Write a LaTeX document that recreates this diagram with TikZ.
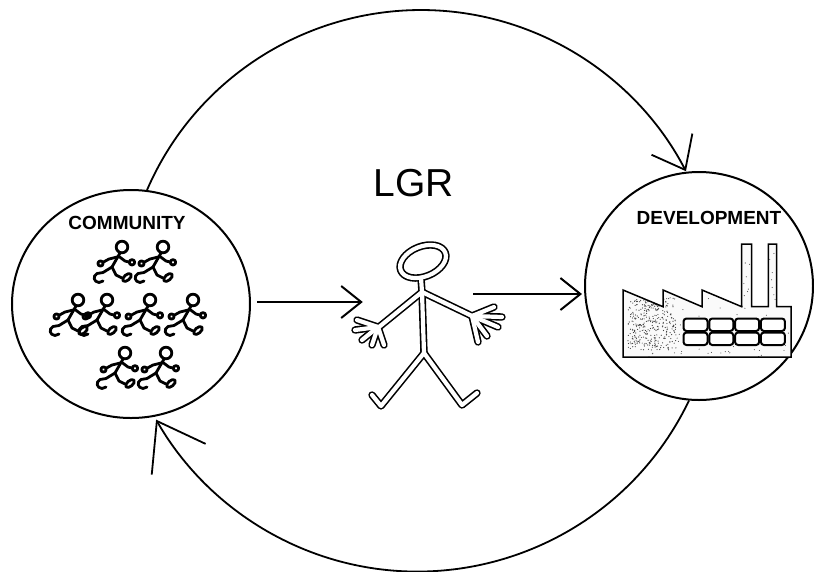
\documentclass[tikz,border=0pt]{standalone}
\usepackage{fontspec}
\setmainfont{Liberation Sans}
\usetikzlibrary{arrows.meta,shapes.geometric}

% outline of the factory building (sawtooth roof and two chimneys)
\newcommand{\factoryoutline}{(623,290) -- (663,306.7) -- (663,290) -- (702,306.7) -- (702,290)
  -- (741.7,306.7) -- (741.7,244) -- (751.7,244) -- (751.7,306.7) -- (768.3,306.7)
  -- (768.3,244) -- (776.7,244) -- (776.7,306.7) -- (791,306.7) -- (791,357) -- (623,357) -- cycle}

% strokes of the big stick man; drawn twice (wide black, then narrow white) for hollow lines
\newcommand{\lgrstrokes}[1]{%
  \draw[#1, shift={(423,261.5)}, rotate=22] (0,0) ellipse[x radius=24pt, y radius=15pt];
  \draw[#1] (421,278) -- (422,292) -- (424,353);
  \draw[#1] (422,292) -- (379,327);
  \draw[#1] (422,292) -- (472,316);
  \draw[#1] (424,353) -- (381,406) -- (372,395);
  \draw[#1] (424,353) -- (462,405) -- (477,393);
  % left hand
  \foreach \fx/\fy in {357/320, 355/330, 362/340, 372/345, 384/345}
    \draw[#1] (378,327) -- (\fx,\fy);
  % right hand
  \foreach \fx/\fy in {494/307, 502/317, 498/327, 487/336, 478/342}
    \draw[#1] (472,316) -- (\fx,\fy);
}

\begin{document}
\begin{tikzpicture}[x=1pt, y=-1pt,
  ring/.style={draw, line width=2pt, inner sep=0pt},
  flow/.style={line width=1.8pt},
  title/.style={font=\fontsize{19}{21}\selectfont\bfseries, inner sep=0pt},
  runline/.style={line width=2.8pt, line cap=round, line join=round},
  winline/.style={line width=2pt, rounded corners=3pt, fill=white},
  runner/.pic={
    \draw[runline] (0,0) circle[radius=5.8pt];
    \draw[runline] (-2,6) -- (-10,20);
    \draw[runline] (-3,9.5) -- (-13,12) -- (-18.5,15);
    \draw[runline] (-21.5,16.5) circle[radius=2.6pt];
    \draw[runline] (-3,9.5) -- (3,14) -- (7,15);
    \draw[runline] (10,15.3) circle[radius=2.7pt];
    \draw[runline] (-10,20) -- (-19,25.5);
    \draw[runline] (-19,25.5) -- (-25,26.5) .. controls (-29.5,29) and (-28.5,35) .. (-23,35.5) -- (-19,34);
    \draw[runline] (-10,20) -- (-6,28) -- (0,31);
    \draw[runline, shift={(5,30.5)}, rotate=40] (0,0) ellipse[x radius=5.2pt, y radius=2.8pt];
  }
]
\fill[white] (0,0) rectangle (814,571);
\useasboundingbox (0,0) rectangle (814,571);

% the two circles
\node[ring, ellipse, minimum width=238pt, minimum height=228pt] (comm) at (131,304) {};
\node[ring, circle, minimum size=228pt] (dev) at (699,286) {};

% labels
\node[title] (commlabel) at (127,222.5) {COMMUNITY};
\node[title] (devlabel) at (709,217.5) {DEVELOPMENT};
\node[font=\fontsize{39}{41}\selectfont, inner sep=0pt] (lgrlabel) at (414,183) {LGR};

% frame holding the stick man
\node[minimum width=110pt, minimum height=165pt, inner sep=0pt] (lgrman) at (418,325.5) {};

% running people in the community
\foreach \hx/\hy in {122/247, 163/247, 78/300, 107/300, 150/300, 193/300, 125/353, 166/353}
  \pic at (\hx,\hy) {runner};

% stick man
\lgrstrokes{line width=7.4pt, black, line cap=round, line join=round}
\lgrstrokes{line width=4.2pt, white, line cap=round, line join=round}

% factory
\fill[gray!4] \factoryoutline;
\begin{scope}
  \clip \factoryoutline;
  \pgfmathsetseed{7}
  \foreach \k in {1,...,170} {
    \pgfmathsetmacro\dx{623+168*rnd}
    \pgfmathsetmacro\dy{244+113*rnd}
    \fill[black!70] (\dx,\dy) circle[radius=0.55pt];
  }
  \foreach \k in {1,...,320} {
    \pgfmathsetmacro\dx{628+48*rnd}
    \pgfmathsetmacro\dy{298+52*rnd}
    \fill[black!75] (\dx,\dy) circle[radius=0.6pt];
  }
\end{scope}
\draw[line width=1.5pt] \factoryoutline;
\foreach \c in {0,...,3}
  \foreach \r in {0,1}
    \draw[winline] ({683.5+25.8*\c},{318.5+14*\r}) rectangle ++(24,12.5);

% connectors
\draw[flow, -{Straight Barb[length=29pt,width=46pt]}]
  (comm.82.9) arc[start angle=156.6, end angle=27.4, radius=298.5pt];
\draw[flow, -{Straight Barb[length=44pt,width=62pt]}]
  (dev.-95.5) arc[start angle=-25.6, end angle=-150.3, radius=301pt];
\draw[line width=2pt, -{Straight Barb[length=20pt,width=32pt]}]
  ([xshift=6pt,yshift=2pt]comm.east) -- ([yshift=23.5pt]lgrman.west);
\draw[line width=2pt, -{Straight Barb[length=20pt,width=32pt]}]
  ([yshift=31.5pt]lgrman.east) -- ([xshift=-2pt,yshift=-8pt]dev.west);
\end{tikzpicture}
\end{document}
